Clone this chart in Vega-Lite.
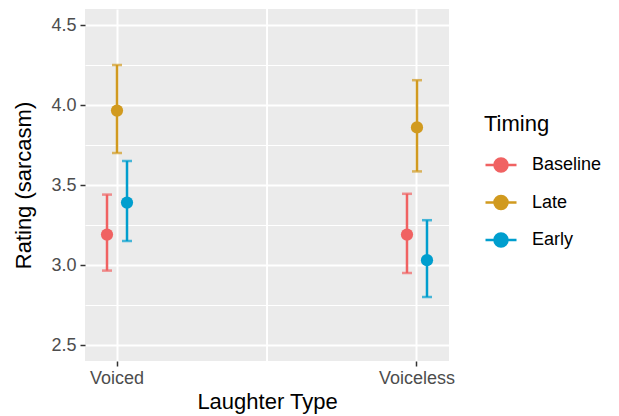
{
  "$schema": "https://vega.github.io/schema/vega-lite/v6.json",
  "width": 364,
  "height": 352,
  "autosize": {"type": "none"},
  "padding": {"left": 85, "top": 9, "right": 170, "bottom": 55},
  "background": "white",
  "config": {
    "font": "Liberation Sans",
    "view": {"fill": "#EBEBEB", "stroke": null},
    "axis": {"domain": false, "gridColor": "white", "labelFont": "Liberation Sans", "titleFont": "Liberation Sans"}
  },
  "data": {
    "values": [
      {"Laughter": "Voiced", "Timing": "Baseline", "mean": 3.19, "lower": 2.965, "upper": 3.44},
      {"Laughter": "Voiced", "Timing": "Late", "mean": 3.965, "lower": 3.70, "upper": 4.25},
      {"Laughter": "Voiced", "Timing": "Early", "mean": 3.39, "lower": 3.15, "upper": 3.65},
      {"Laughter": "Voiceless", "Timing": "Baseline", "mean": 3.19, "lower": 2.95, "upper": 3.445},
      {"Laughter": "Voiceless", "Timing": "Late", "mean": 3.86, "lower": 3.585, "upper": 4.155},
      {"Laughter": "Voiceless", "Timing": "Early", "mean": 3.03, "lower": 2.80, "upper": 3.28}
    ]
  },
  "layer": [
    {
      "mark": {"type": "rule", "color": "white", "strokeWidth": 1},
      "encoding": {
        "x": {"datum": 0.5, "type": "quantitative", "scale": {"domain": [0, 1]}, "axis": null}
      }
    },
    {
      "encoding": {
        "x": {
          "field": "Laughter", "type": "nominal",
          "scale": {"type": "band", "domain": ["Voiced", "Voiceless"], "paddingInner": 0.9, "paddingOuter": 0.0567},
          "axis": {
            "title": "Laughter Type", "labelAngle": 0, "bandPosition": 0.5,
            "grid": true, "gridWidth": 2, "gridColor": "white",
            "labelFontSize": 18, "labelColor": "#4D4D4D", "labelPadding": 3,
            "tickSize": 5, "tickWidth": 1.5, "tickColor": "#333333",
            "titleFontSize": 22, "titleFontWeight": "normal", "titleColor": "black", "titlePadding": 4
          }
        },
        "xOffset": {
          "field": "Timing", "type": "nominal",
          "scale": {"type": "band", "domain": ["Baseline", "Late", "Early"], "paddingInner": 0, "paddingOuter": 0}
        },
        "color": {
          "field": "Timing", "type": "nominal",
          "scale": {"domain": ["Baseline", "Late", "Early"], "range": ["#F06262", "#D19A1F", "#009ECE"]}
        }
      },
      "layer": [
        {
          "mark": {"type": "rule", "strokeWidth": 2.5},
          "encoding": {
            "y": {"field": "lower", "type": "quantitative", "scale": {"domain": [2.4, 4.6], "nice": false, "zero": false}, "axis": null},
            "y2": {"field": "upper"}
          }
        },
        {
          "mark": {"type": "tick", "thickness": 2.5, "size": 10, "orient": "horizontal"},
          "encoding": {
            "y": {
              "field": "lower", "type": "quantitative",
              "axis": {"orient": "left", "values": [2.75, 3.25, 3.75, 4.25], "grid": true, "gridWidth": 1, "gridColor": "white", "labels": false, "ticks": false, "domain": false, "title": null}
            }
          }
        },
        {
          "mark": {"type": "tick", "thickness": 2.5, "size": 10, "orient": "horizontal"},
          "encoding": {
            "y": {"field": "upper", "type": "quantitative", "axis": null}
          }
        },
        {
          "mark": {"type": "point", "filled": true, "size": 150, "opacity": 1},
          "encoding": {
            "y": {
              "field": "mean", "type": "quantitative",
              "axis": {
                "orient": "left", "title": "Rating (sarcasm)", "values": [2.5, 3, 3.5, 4, 4.5], "format": ".1f",
                "grid": true, "gridWidth": 2, "gridColor": "white",
                "labelFontSize": 18, "labelColor": "#4D4D4D", "labelPadding": 4,
                "tickSize": 5, "tickWidth": 1.5, "tickColor": "#333333",
                "titleFontSize": 22, "titleFontWeight": "normal", "titleColor": "black", "titlePadding": 15
              }
            },
            "color": {
              "field": "Timing", "type": "nominal",
              "legend": {
                "orient": "none", "legendX": 399, "legendY": 105,
                "title": "Timing", "titleFontSize": 22, "titleFontWeight": "normal", "titleColor": "black", "titlePadding": 12,
                "labelFontSize": 18, "labelColor": "black", "labelOffset": 14,
                "symbolType": "M -1 0 L 1 0 M 0.42 0 A 0.42 0.42 0 1 1 -0.42 0 A 0.42 0.42 0 1 1 0.42 0 Z",
                "symbolSize": 961, "symbolStrokeWidth": 2.5, "symbolOpacity": 1, "rowPadding": 8.5, "padding": 0,
                "encode": {"symbols": {"update": {"stroke": {"scale": "color", "field": "value"}, "fill": {"scale": "color", "field": "value"}}}}
              }
            }
          }
        }
      ],
      "resolve": {"axis": {"y": "independent"}}
    }
  ],
  "resolve": {"scale": {"x": "independent"}, "axis": {"x": "independent"}}
}
